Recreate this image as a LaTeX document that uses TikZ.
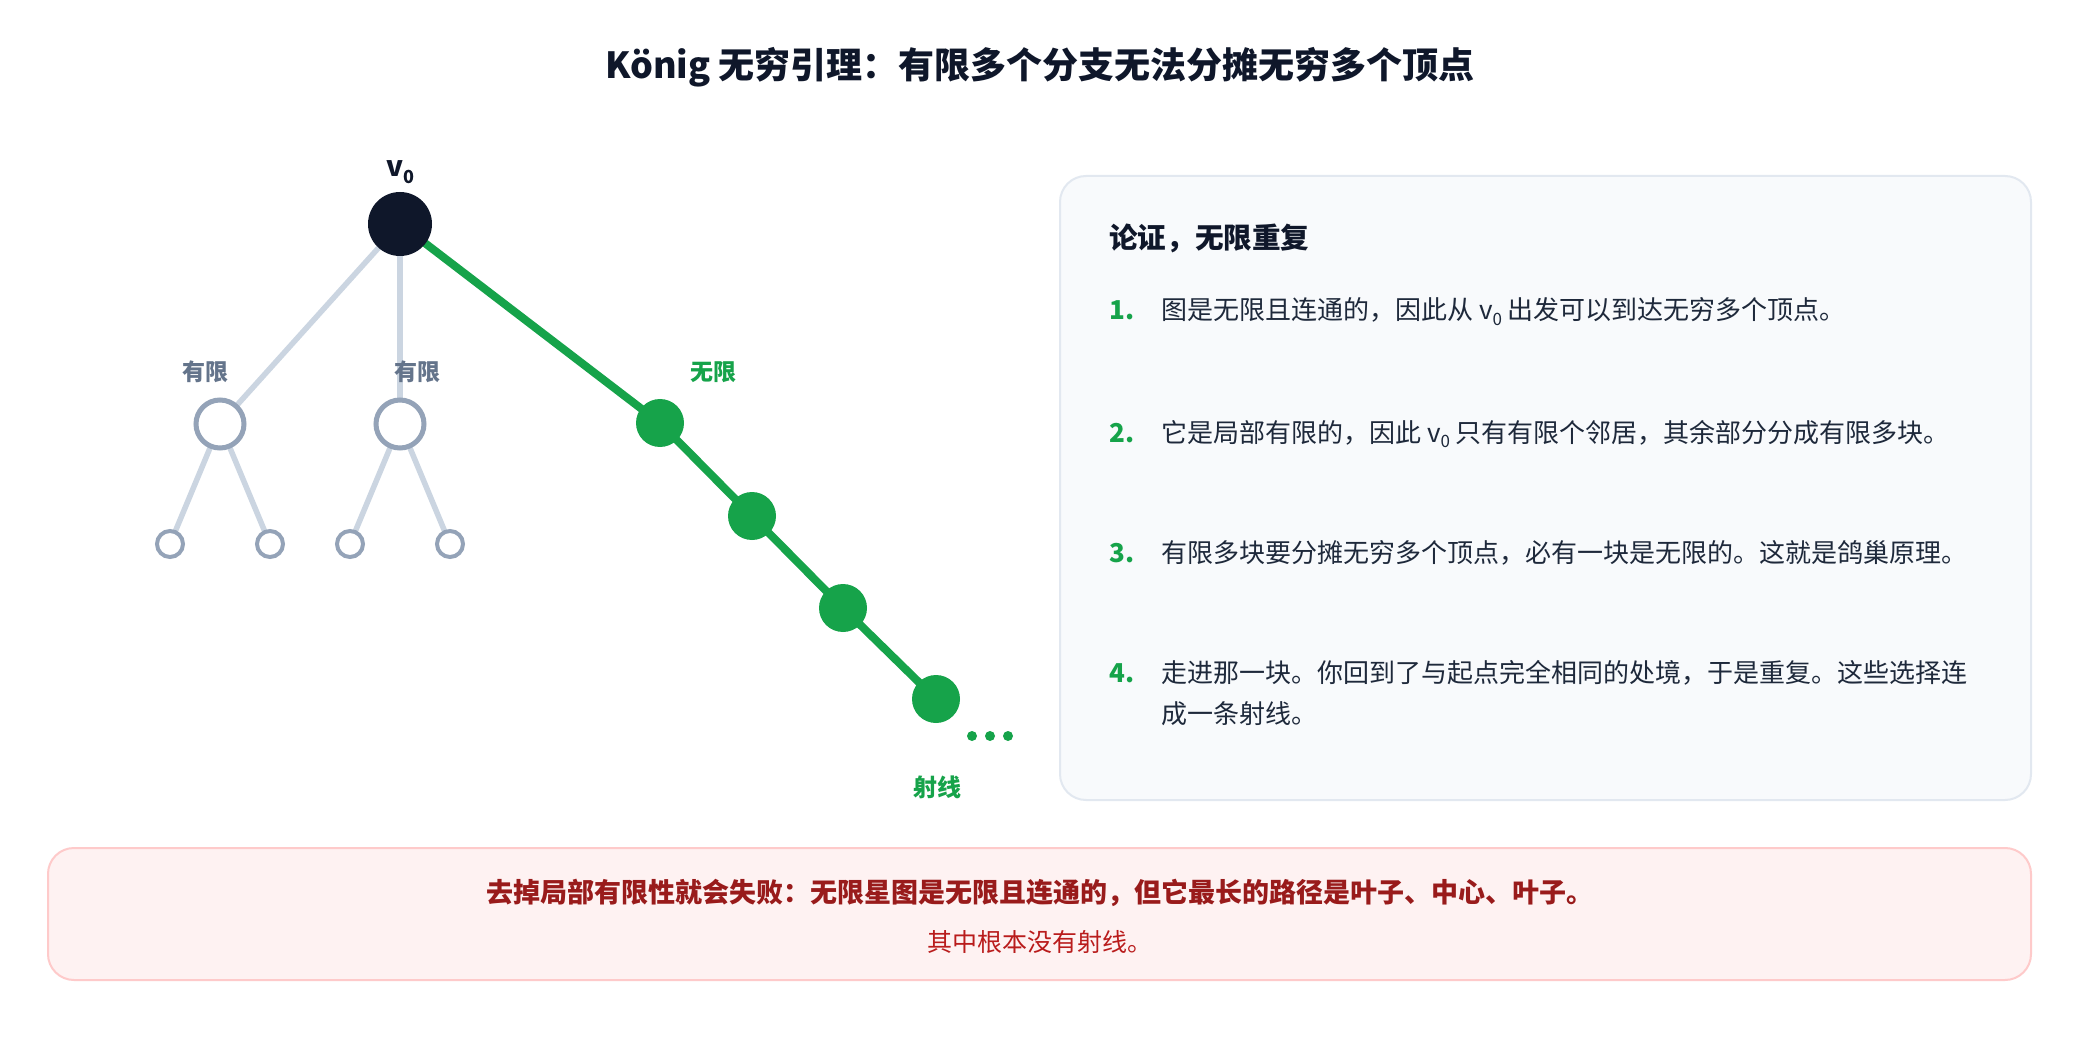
\documentclass[tikz,border=0pt]{standalone}
\usepackage{fontspec}
\setmainfont{Noto Sans CJK SC}
\usetikzlibrary{backgrounds}
\definecolor{cTitle}{HTML}{0F172A}
\definecolor{cText}{HTML}{1E293B}
\definecolor{cGreen}{HTML}{16A34A}
\definecolor{cSlate}{HTML}{64748B}
\definecolor{cEdge}{HTML}{CBD5E1}
\definecolor{cRing}{HTML}{94A3B8}
\definecolor{cPanel}{HTML}{F8FAFC}
\definecolor{cPanelB}{HTML}{E2E8F0}
\definecolor{cWarn}{HTML}{FEF2F2}
\definecolor{cWarnB}{HTML}{FECACA}
\definecolor{cWarnT}{HTML}{991B1B}
\definecolor{cWarnT2}{HTML}{B91C1C}
\newcommand\vzero[1]{v\raisebox{-0.22em}{\fontsize{#1}{#1}\selectfont 0}}
\begin{document}
\begin{tikzpicture}[x=1pt,y=-1pt,
  rootnode/.style={circle,fill=cTitle,minimum size=64pt,inner sep=0pt},
  midnode/.style={circle,draw=cRing,fill=white,line width=5pt,minimum size=48pt,inner sep=0pt},
  leafnode/.style={circle,draw=cRing,fill=white,line width=4pt,minimum size=26pt,inner sep=0pt},
  raynode/.style={circle,fill=cGreen,minimum size=48pt,inner sep=0pt},
  dotnode/.style={circle,fill=cGreen,minimum size=10pt,inner sep=0pt},
  grayedge/.style={draw=cEdge,line width=5.5pt},
  greenedge/.style={draw=cGreen,line width=8pt},
  lbl/.style={anchor=base,inner sep=0pt,font=\fontsize{23}{28}\selectfont\bfseries},
  numtxt/.style={anchor=base west,inner sep=0pt,text=cGreen,font=\fontsize{26}{41}\selectfont\bfseries},
  itemtxt/.style={anchor=base west,inner sep=0pt,text=cText,font=\fontsize{26}{41}\selectfont,align=left},
  ]
\useasboundingbox (0,0) rectangle (2080,1040);

% title
\node[anchor=base,inner sep=0pt,text=cTitle,font=\fontsize{36}{42}\selectfont\bfseries] (title) at (1040,79) {König 无穷引理：有限多个分支无法分摊无穷多个顶点};

% tree
\node[rootnode] (v0) at (400,224) {};
\node[anchor=base,inner sep=0pt,text=cTitle,font=\fontsize{28}{32}\selectfont\bfseries] (v0lbl) at (400,177) {\vzero{18}};
\node[midnode] (a) at (220,424) {};
\node[midnode] (b) at (400,424) {};
\node[leafnode] (a1) at (170,544) {};
\node[leafnode] (a2) at (270,544) {};
\node[leafnode] (b1) at (350,544) {};
\node[leafnode] (b2) at (450,544) {};
\node[raynode] (r1) at (660,423) {};
\node[raynode] (r2) at (752,516) {};
\node[raynode] (r3) at (843,608) {};
\node[raynode] (r4) at (936,699) {};
\node[dotnode] (d1) at (972,736) {};
\node[dotnode] (d2) at (990,736) {};
\node[dotnode] (d3) at (1008,736) {};
\node[lbl,text=cSlate] (la) at (205,381) {有限};
\node[lbl,text=cSlate] (lb) at (417,381) {有限};
\node[lbl,text=cGreen] (lr) at (713,381) {无限};
\node[anchor=base,inner sep=0pt,text=cGreen,font=\fontsize{24}{28}\selectfont\bfseries] (lray) at (937,796) {射线};

% panel
\node[draw=cPanelB,fill=cPanel,line width=2pt,rounded corners=26pt,minimum width=971pt,minimum height=624pt,inner sep=0pt] (panel) at (1545.5,488) {};
\node[anchor=base west,inner sep=0pt,text=cTitle,font=\fontsize{28.6}{34}\selectfont\bfseries] (head) at (1109,249) {论证，无限重复};
\node[numtxt] (n1) at (1109,320) {1.};
\node[itemtxt] (t1) at (1161,320) {图是无限且连通的，因此从 \vzero{17} 出发可以到达无穷多个顶点。};
\node[numtxt] (n2) at (1109,442) {2.};
\node[itemtxt] (t2) at (1161,442) {它是局部有限的，因此 \vzero{17} 只有有限个邻居，其余部分分成有限多块。};
\node[numtxt] (n3) at (1109,562) {3.};
\node[itemtxt] (t3) at (1161,562) {有限多块要分摊无穷多个顶点，必有一块是无限的。这就是鸽巢原理。};
\node[numtxt] (n4) at (1109,682) {4.};
\node[itemtxt] (t4) at (1161,723) {走进那一块。你回到了与起点完全相同的处境，于是重复。这些选择连\\成一条射线。};

% warning box
\node[draw=cWarnB,fill=cWarn,line width=2pt,rounded corners=26pt,minimum width=1983pt,minimum height=132pt,inner sep=0pt] (warn) at (1039.5,914) {};
\node[anchor=base,inner sep=0pt,text=cWarnT,font=\fontsize{27}{31}\selectfont\bfseries] (w1) at (1040,902) {去掉局部有限性就会失败：无限星图是无限且连通的，但它最长的路径是叶子、中心、叶子。};
\node[anchor=base,inner sep=0pt,text=cWarnT2,font=\fontsize{25}{29}\selectfont] (w2) at (1040,951) {其中根本没有射线。};

\begin{scope}[on background layer]
\fill[white] (0,0) rectangle (2080,1040);
\draw[grayedge] (v0.center) -- (a.center);
\draw[grayedge] (v0.center) -- (b.center);
\draw[grayedge] (a.center) -- (a1.center);
\draw[grayedge] (a.center) -- (a2.center);
\draw[grayedge] (b.center) -- (b1.center);
\draw[grayedge] (b.center) -- (b2.center);
\draw[greenedge] (v0.center) -- (r1.center) -- (r2.center) -- (r3.center) -- (r4.center);
\end{scope}
\end{tikzpicture}
\end{document}
